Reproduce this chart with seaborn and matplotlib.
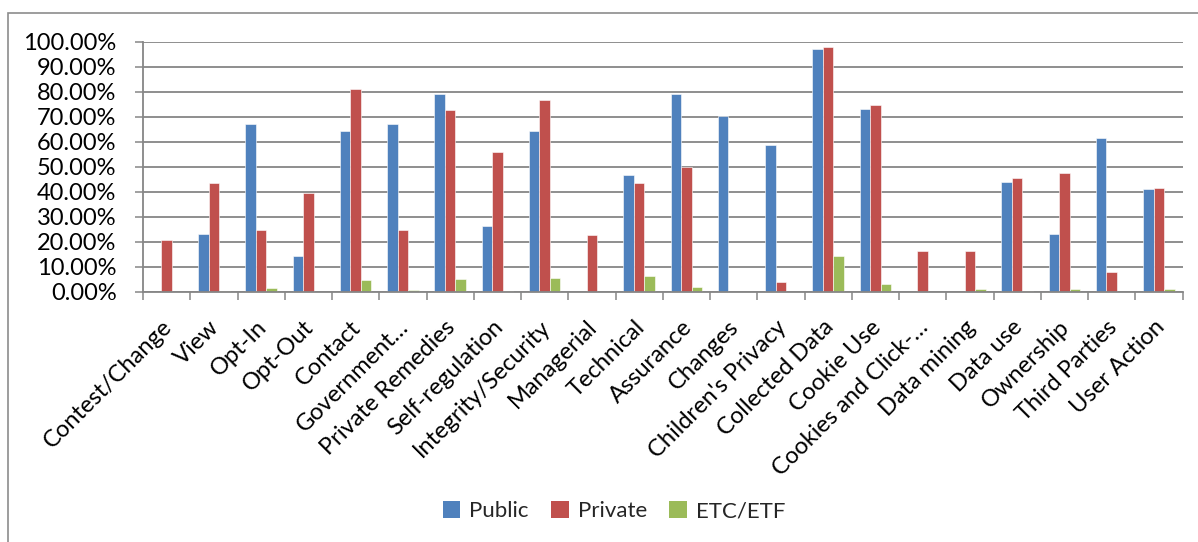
import matplotlib
matplotlib.use("Agg")
import matplotlib.pyplot as plt
from matplotlib.patches import Rectangle, Patch
from matplotlib.ticker import FuncFormatter, FixedLocator
from matplotlib.transforms import ScaledTranslation
import numpy as np
import pandas as pd
import seaborn as sns

categories = [
    "Contest/Change", "View", "Opt-In", "Opt-Out", "Contact", "Government\u2026",
    "Private Remedies", "Self-regulation", "Integrity/Security", "Managerial",
    "Technical", "Assurance", "Changes", "Children's Privacy", "Collected Data",
    "Cookie Use", "Cookies and Click-\u2026", "Data mining", "Data use",
    "Ownership", "Third Parties", "User Action",
]
public = [0.0, 23.3, 67.3, 14.5, 64.5, 67.3, 79.2, 26.3, 64.5, 0.0, 46.9,
          79.2, 70.5, 58.7, 97.1, 73.3, 0.0, 0.0, 43.9, 23.3, 61.7, 41.1]
private = [20.7, 43.7, 24.9, 39.5, 81.2, 24.9, 72.9, 56.1, 76.9, 22.7, 43.7,
           49.9, 0.0, 4.0, 97.9, 74.8, 16.5, 16.5, 45.7, 47.7, 8.1, 41.6]
etc_etf = [0.0, 0.4, 1.7, 0.0, 4.9, 0.7, 5.3, 0.3, 5.6, 0.0, 6.3,
           2.0, 0.0, 0.0, 14.3, 3.2, 0.0, 1.2, 0.3, 1.2, 0.0, 1.2]
series_names = ["Public", "Private", "ETC/ETF"]
colors = ["#4F81BD", "#C0504D", "#9BBB59"]
y_ticks = [0, 10, 20, 30, 40, 50, 60, 70, 80, 90, 100]

df = pd.DataFrame({
    "category": categories * 3,
    "series": [s for s in series_names for _ in categories],
    "value": public + private + etc_etf,
})

sns.set_style("white")
plt.rcParams["font.family"] = ["Lato", "DejaVu Sans"]

W, H = 1198, 542
FS = 17
fig = plt.figure(figsize=(W / 100, H / 100), dpi=100)
ax = fig.add_axes([143 / W, 1 - 292 / H, (1182.5 - 143) / W, (292 - 41.7) / H])

sns.barplot(data=df, x="category", y="value", hue="series", order=categories,
            hue_order=series_names, palette=colors, width=0.667, ax=ax,
            saturation=1, legend=False, errorbar=None,
            edgecolor="white", linewidth=0.4)

ax.set_xlim(-0.5, len(categories) - 0.5)
ax.set_ylim(0, 100)
ax.set_xlabel("")
ax.set_ylabel("")

grid_c = "#868686"
ax.set_yticks(y_ticks)
ax.yaxis.set_major_formatter(FuncFormatter(lambda v, p: f"{v:.2f}%"))
ax.yaxis.grid(True, color=grid_c, linewidth=1.3)
ax.set_axisbelow(True)
for s in ["top", "right"]:
    ax.spines[s].set_visible(False)
for s in ["left", "bottom"]:
    ax.spines[s].set_color(grid_c)
    ax.spines[s].set_linewidth(1.3)

ax.tick_params(axis="y", left=True, length=6, width=1.1, color=grid_c,
               labelsize=FS, pad=13, labelcolor="black")

# category labels at centers, tick marks at group boundaries
ax.set_xticks(np.arange(len(categories)))
ax.set_xticklabels(categories, rotation=45, ha="right", va="center",
                   rotation_mode="anchor", fontsize=FS, color="black")
ax.tick_params(axis="x", which="major", length=0, pad=10)
shift = ScaledTranslation(2 / 100, -18 / 100, fig.dpi_scale_trans)
for lbl in ax.get_xticklabels():
    lbl.set_transform(lbl.get_transform() + shift)
ax.xaxis.set_minor_locator(FixedLocator(np.arange(len(categories) + 1) - 0.5))
ax.tick_params(axis="x", which="minor", bottom=True, length=6, width=1.1,
               color=grid_c)

handles = [Patch(facecolor=c, edgecolor="none") for c in colors]
fig.legend(handles, series_names, loc="center", bbox_to_anchor=(614 / W, 1 - 511 / H),
           ncol=3, frameon=False, fontsize=16, handlelength=0.8, handleheight=0.8,
           columnspacing=1.0, handletextpad=0.4)

# outer chart frame
fig.patches.append(Rectangle((8 / W, -0.1), 1.2, 1 - 13 / H + 0.1,
                             transform=fig.transFigure, fill=False,
                             edgecolor="#8c8c8c", linewidth=1.2))

fig.savefig("out.png", dpi=100, facecolor="white")
